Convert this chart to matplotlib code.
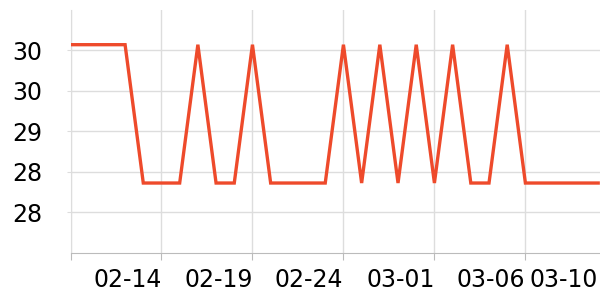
import matplotlib
matplotlib.use("Agg")
import matplotlib.pyplot as plt

dates = ['02-09', '02-10', '02-11', '02-12', '02-13', '02-14', '02-15', '02-16', '02-17', '02-18',
         '02-19', '02-20', '02-21', '02-22', '02-23', '02-24', '02-25', '02-26', '02-27', '02-28',
         '03-01', '03-02', '03-03', '03-04', '03-05', '03-06', '03-07', '03-08', '03-09', '03-10']
hi, lo = 30.07, 28.36
values = [hi, hi, hi, hi, lo, lo, lo, hi, lo, lo,
          hi, lo, lo, lo, lo, hi, lo, hi, lo, hi,
          lo, hi, lo, lo, hi, lo, lo, lo, lo, lo]
tick_idx = [0, 5, 10, 15, 20, 25, 29]
y_ticks = [28.0, 28.5, 29.0, 29.5, 30.0]

fig = plt.figure(figsize=(6, 3), dpi=100)
ax = fig.add_axes([0.1175, 0.158, 0.8825, 0.809])

x = list(range(len(values)))
ax.plot(x, values, color='#ee4a2b', linewidth=2.4, solid_joinstyle='miter', zorder=3)

ax.set_xlim(0, 29.1)
ax.set_ylim(27.5, 30.5)

ax.set_yticks(y_ticks)
ax.set_yticklabels(['%.0f' % v for v in y_ticks])
ax.set_xticks(tick_idx)
ax.set_xticklabels([''] + [dates[i] for i in tick_idx[1:]], ha='right')

ax.grid(True, color='#dddddd', linewidth=1)
ax.get_xgridlines()[-1].set_visible(False)
ax.xaxis.get_major_ticks()[-1].tick1line.set_visible(False)

for s in ['top', 'right']:
    ax.spines[s].set_visible(False)
ax.spines['left'].set_color('#dddddd')
ax.spines['bottom'].set_color('#bbbbbb')
ax.tick_params(axis='y', length=3, color='#dddddd', labelsize=17, pad=17)
ax.tick_params(axis='x', length=5, color='#bbbbbb', labelsize=17, pad=6)

fig.savefig('out.png', dpi=100)
